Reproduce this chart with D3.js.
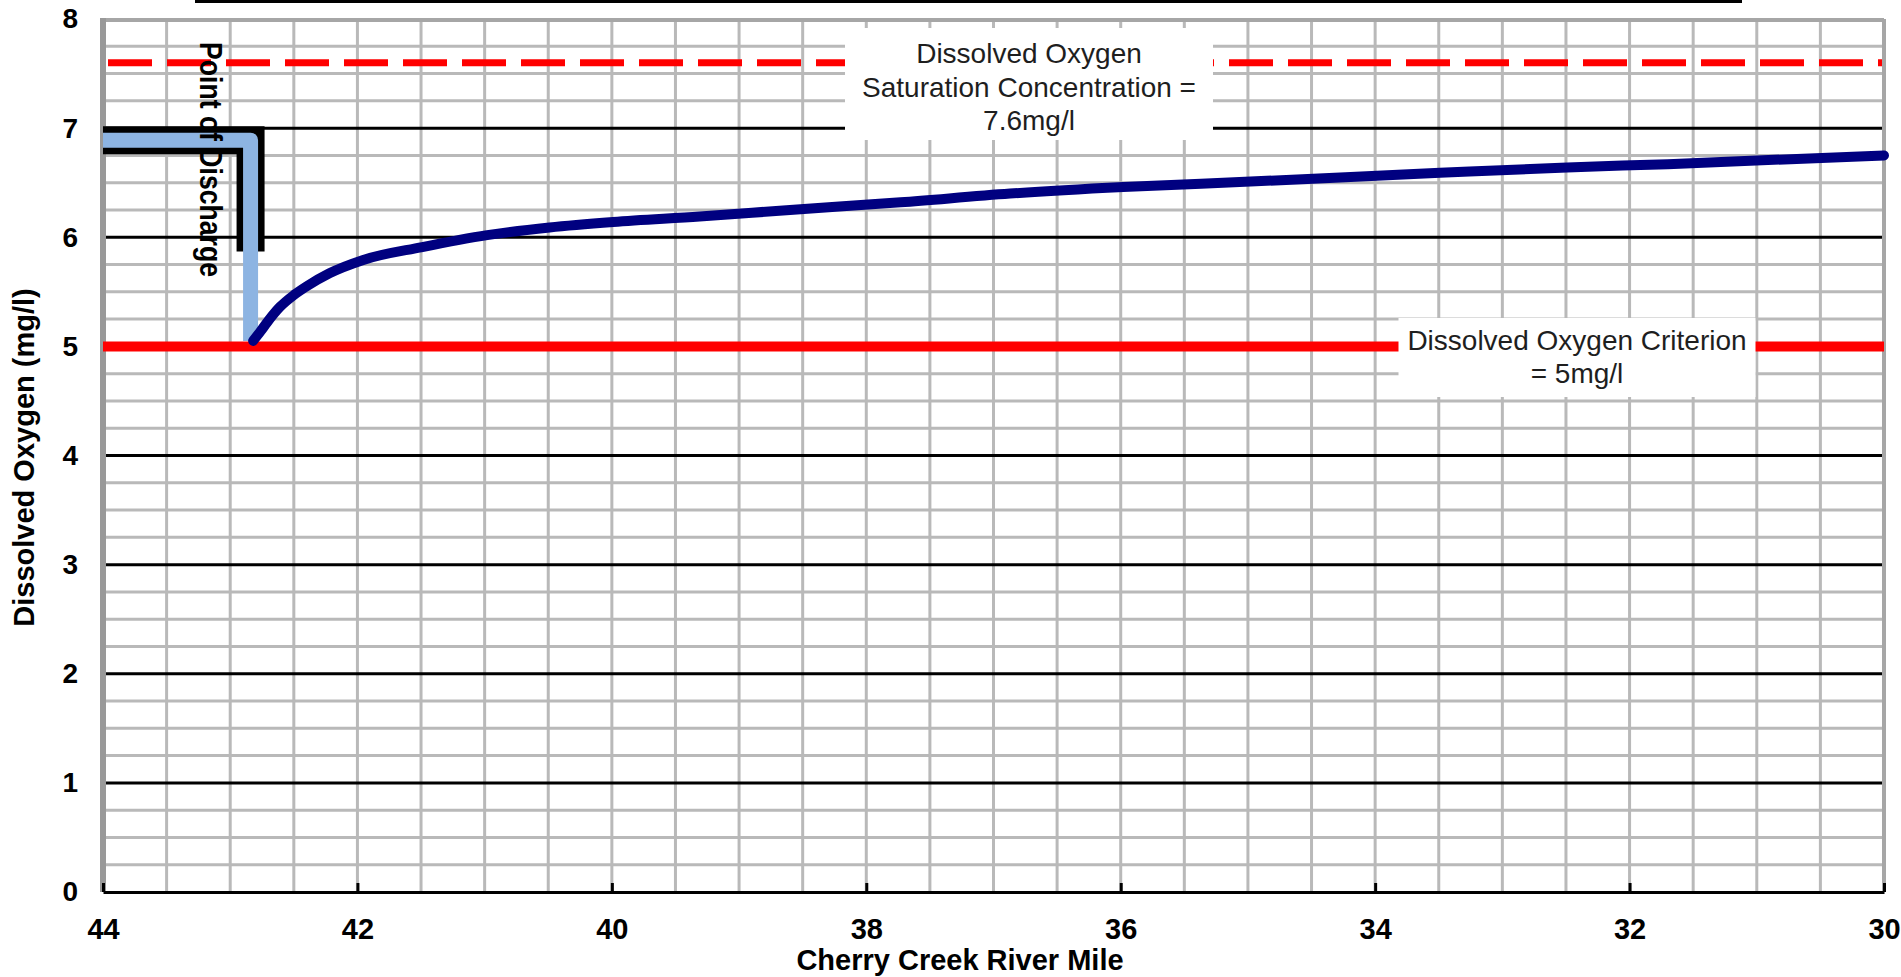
<!DOCTYPE html>
<html>
<head>
<meta charset="utf-8">
<script src="https://cdn.jsdelivr.net/npm/d3@7"></script>
<style>
  html, body { margin: 0; padding: 0; background: #fff; }
  svg { display: block; }
</style>
</head>
<body>
<svg id="chart" width="1901" height="977"></svg>
<script>
// ---- data ----
const riverMile = [42.82, 42.76, 42.71, 42.61, 42.50, 42.40, 42.22, 41.96, 41.49, 40.98, 40.49, 39.99, 39.31, 38.60, 37.73, 36.87, 35.98, 34.98, 33.49, 32.49, 31.70, 30.00];
const dissolvedOxygen = [5.05, 5.14, 5.22, 5.36, 5.47, 5.55, 5.67, 5.79, 5.91, 6.02, 6.09, 6.14, 6.19, 6.25, 6.32, 6.40, 6.46, 6.51, 6.59, 6.64, 6.67, 6.75];
const upstreamMile = [44, 42.84, 42.84];
const upstreamDO = [6.89, 6.89, 5.05];
const dischargeMarkMile = [44, 42.84, 42.84];
const dischargeMarkDO = [6.89, 6.89, 5.87];
const xTicks = [44, 42, 40, 38, 36, 34, 32, 30];
const yTicks = [0, 1, 2, 3, 4, 5, 6, 7, 8];
const saturationDO = 7.6;
const criterionDO = 5;
const saturationLabel = ["Dissolved Oxygen", "Saturation Concentration =", "7.6mg/l"];
const criterionLabel = ["Dissolved Oxygen Criterion", "= 5mg/l"];
const dischargeLabel = "Point of Discharge";
const xTitle = "Cherry Creek River Mile";
const yTitle = "Dissolved Oxygen (mg/l)";

// ---- layout ----
const svg = d3.select("#chart");
const L = 103, R = 1884, T = 19, B = 892;
const x = d3.scaleLinear().domain([44, 30]).range([L, R]);
const y = d3.scaleLinear().domain([0, 8]).range([B, T]);
const font = "'Liberation Sans', Arial, sans-serif";

// top stray rule
svg.append("rect").attr("x", 195).attr("y", 0).attr("width", 1547).attr("height", 3).attr("fill", "#000");

const g = svg.append("g");

// minor horizontal grid (every 0.25)
const hMinor = d3.range(0.25, 8, 0.25).filter(v => Math.abs(v - Math.round(v)) > 1e-6);
g.selectAll(".hmin").data(hMinor).join("line")
  .attr("x1", L).attr("x2", R).attr("y1", d => y(d)).attr("y2", d => y(d))
  .attr("stroke", "#b9b9b9").attr("stroke-width", 3);

// vertical grid (every 0.5)
const vGrid = d3.range(43.5, 30.1, -0.5);
g.selectAll(".vg").data(vGrid).join("line")
  .attr("y1", T).attr("y2", B).attr("x1", d => x(d)).attr("x2", d => x(d))
  .attr("stroke", "#b9b9b9").attr("stroke-width", 3);

// major horizontal lines
g.selectAll(".hmaj").data(yTicks.filter(v => v > 0 && v < 8)).join("line")
  .attr("x1", L).attr("x2", R).attr("y1", d => y(d)).attr("y2", d => y(d))
  .attr("stroke", "#000").attr("stroke-width", 3);

// frame
g.append("line").attr("x1", L).attr("x2", R).attr("y1", y(8) + 1).attr("y2", y(8) + 1).attr("stroke", "#a6a6a6").attr("stroke-width", 4);
g.append("line").attr("x1", R).attr("x2", R).attr("y1", T).attr("y2", B).attr("stroke", "#a6a6a6").attr("stroke-width", 4);
g.append("line").attr("x1", L).attr("x2", L).attr("y1", T - 1).attr("y2", B).attr("stroke", "#999").attr("stroke-width", 6);

// x axis
const xAxis = d3.axisBottom(x).tickValues(xTicks).tickSize(0).tickFormat(d3.format("d"));
const ax = svg.append("g").attr("transform", `translate(0,${B})`).call(xAxis);
ax.select(".domain").attr("stroke", "#000").attr("stroke-width", 3);
ax.selectAll(".tick text").attr("font-family", font).attr("font-weight", "bold")
  .attr("font-size", 29).attr("fill", "#000").attr("y", 0).attr("dy", 47);
ax.selectAll(".tick").append("line").attr("y1", 0).attr("y2", -9).attr("stroke", "#000").attr("stroke-width", 3);

// y axis labels
const yAxis = d3.axisLeft(y).tickValues(yTicks).tickSize(0).tickPadding(25).tickFormat(d3.format("d"));
const ay = svg.append("g").attr("transform", `translate(${L},0)`).call(yAxis);
ay.select(".domain").remove();
ay.selectAll(".tick text").attr("font-family", font).attr("font-weight", "bold")
  .attr("font-size", 28).attr("fill", "#000");

// criterion line
svg.append("line").attr("x1", L).attr("x2", R).attr("y1", y(criterionDO)).attr("y2", y(criterionDO))
  .attr("stroke", "#ff0000").attr("stroke-width", 10);
// saturation dashed line
svg.append("line").attr("x1", L + 5).attr("x2", R - 2).attr("y1", y(saturationDO)).attr("y2", y(saturationDO))
  .attr("stroke", "#ff0000").attr("stroke-width", 7).attr("stroke-dasharray", "44,15");

// label boxes
function labelBox(lines, cx, top, w, h, firstBase, step) {
  svg.append("rect").attr("x", cx - w / 2).attr("y", top).attr("width", w).attr("height", h).attr("fill", "#fff");
  const t = svg.append("text").attr("font-family", font).attr("font-size", 28).attr("fill", "#1e1e1e")
    .attr("text-anchor", "middle");
  lines.forEach((s, i) => t.append("tspan").attr("x", cx).attr("y", firstBase + i * step).text(s));
}
labelBox(saturationLabel, 1029, 28, 368, 112, 63, 33.5);
labelBox(criterionLabel, 1577, 318, 357, 79, 350, 33);

// discharge marker
const lineGen = d3.line().x(d => x(d[0])).y(d => y(d[1]));
svg.append("path").datum(dischargeMarkMile.map((m, i) => [m, dischargeMarkDO[i]]))
  .attr("d", lineGen)
  .attr("fill", "none").attr("stroke", "#000").attr("stroke-width", 28).attr("stroke-linejoin", "miter");
svg.append("path").datum(upstreamMile.map((m, i) => [m, upstreamDO[i]]))
  .attr("d", lineGen)
  .attr("fill", "none").attr("stroke", "#8db4e2").attr("stroke-width", 15).attr("stroke-linejoin", "round");

// DO sag curve
svg.append("path").datum(riverMile.map((m, i) => [m, dissolvedOxygen[i]]))
  .attr("d", d3.line().x(d => x(d[0])).y(d => y(d[1])).curve(d3.curveMonotoneX))
  .attr("fill", "none").attr("stroke", "#000080").attr("stroke-width", 10).attr("stroke-linecap", "round");

// point of discharge text
svg.append("text").attr("transform", `translate(200,42) rotate(90)`)
  .attr("font-family", font).attr("font-weight", "bold").attr("font-size", 31).attr("fill", "#000")
  .attr("textLength", 235).attr("lengthAdjust", "spacingAndGlyphs")
  .text(dischargeLabel);

// axis titles
svg.append("text").attr("x", 960).attr("y", 970).attr("text-anchor", "middle")
  .attr("font-family", font).attr("font-weight", "bold").attr("font-size", 29).attr("fill", "#000")
  .text(xTitle);
svg.append("text").attr("transform", `translate(34,${(T + B) / 2 + 2}) rotate(-90)`).attr("text-anchor", "middle")
  .attr("font-family", font).attr("font-weight", "bold").attr("font-size", 29).attr("fill", "#000")
  .text(yTitle);
</script>
</body>
</html>
